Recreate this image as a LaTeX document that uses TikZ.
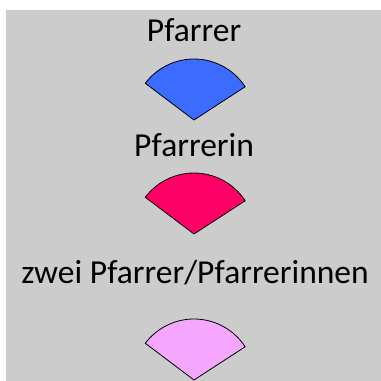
\documentclass[tikz,border=0pt]{standalone}
\usepackage{fontspec}
\setmainfont{Carlito}
\definecolor{bg}{HTML}{CCCCCC}
\definecolor{wblue}{HTML}{3B6CFF}
\definecolor{wpink}{HTML}{FF0066}
\definecolor{wlav}{HTML}{F5A6FF}
\begin{document}
\begin{tikzpicture}[x=1pt,y=1pt,
  lbl/.style={anchor=base,inner sep=0pt,font=\fontsize{33.5}{40}\selectfont},
  wedge/.style={draw=black,line width=0.8pt,line join=round}]
\useasboundingbox (0,0) rectangle (381,381);
\fill[bg] (6,0) rectangle (381,371);
\node[lbl] (t1) at (194,339.3) {Pfarrer};
\node[lbl] (t2) at (194,224) {Pfarrerin};
\node[lbl] (t3) at (195,97) {zwei Pfarrer/Pfarrerinnen};
\coordinate (a1) at (194,261);
\coordinate (a2) at (194,147);
\coordinate (a3) at (194,1);
\filldraw[wedge,fill=wblue] (a1) -- ++(33:61) arc[start angle=33,end angle=143,radius=61] -- cycle;
\filldraw[wedge,fill=wpink] (a2) -- ++(33:61) arc[start angle=33,end angle=143,radius=61] -- cycle;
\filldraw[wedge,fill=wlav] (a3) -- ++(33:61) arc[start angle=33,end angle=143,radius=61] -- cycle;
\end{tikzpicture}
\end{document}
